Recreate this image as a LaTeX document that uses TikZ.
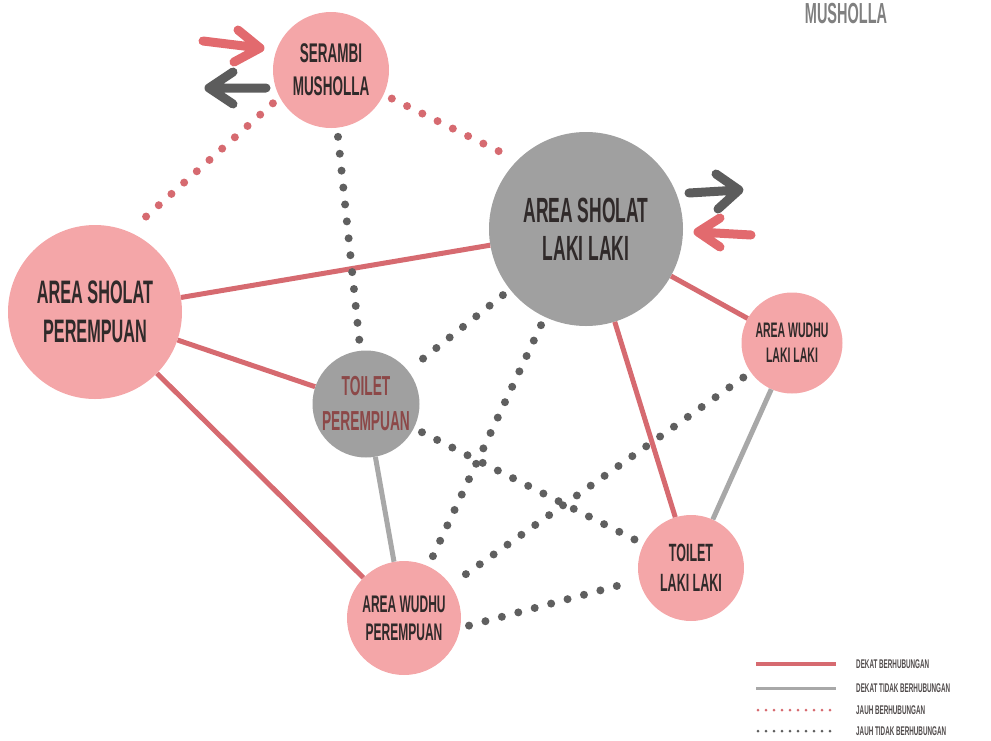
\documentclass[tikz,border=0pt]{standalone}
\usepackage{fontspec}
\newfontfamily\condfont[FakeStretch=0.5]{Liberation Sans}

\definecolor{isimerah}{RGB}{244,166,168}
\definecolor{isiabu}{RGB}{160,160,160}
\definecolor{garismerah}{RGB}{214,106,112}
\definecolor{garisabu}{RGB}{168,168,168}
\definecolor{titikabu}{RGB}{95,95,95}
\definecolor{panahabu}{RGB}{92,92,92}
\definecolor{panahmerah}{RGB}{226,106,110}
\definecolor{teksgelap}{RGB}{48,42,42}
\definecolor{tekscoklat}{RGB}{140,72,72}

\tikzset{
  ruang/.style={circle, inner sep=0pt, align=center, text=teksgelap},
  ruangmerah/.style={ruang, fill=isimerah},
  ruangabu/.style={ruang, fill=isiabu},
  dekat/.style={draw=garismerah, line width=5pt},
  dekattidak/.style={draw=garisabu, line width=5pt},
  jauh/.style={draw=garismerah, line width=8pt, line cap=round,
    dash pattern=on 0pt off 17pt, shorten <=9pt, shorten >=9pt},
  jauhtidak/.style={jauh, draw=titikabu},
  panah/.style={line width=9pt, line cap=round, line join=round},
  legteks/.style={anchor=west, inner sep=0pt, text=teksgelap!85,
    font=\condfont\bfseries\fontsize{12.6}{14}\selectfont}
}

\begin{document}
\begin{tikzpicture}[x=1pt, y=-1pt]
  \useasboundingbox (0,0) rectangle (991,740);

  % judul
  \node[text=black!50, font=\condfont\bfseries\fontsize{29}{30}\selectfont] (judul) at (846,14) {MUSHOLLA};

  % ruang-ruang
  \node[ruangmerah, minimum size=116pt, font=\condfont\bfseries\fontsize{27}{33}\selectfont]
    (serambi) at (331,70) {SERAMBI\\MUSHOLLA};
  \node[ruangabu, minimum size=194pt, font=\condfont\bfseries\fontsize{35}{38}\selectfont]
    (sholatL) at (586,229) {AREA SHOLAT\\LAKI LAKI};
  \node[ruangmerah, minimum size=174pt, font=\condfont\bfseries\fontsize{32.5}{39}\selectfont]
    (sholatP) at (95,312) {AREA SHOLAT\\PEREMPUAN};
  \node[ruangmerah, minimum size=101pt, font=\condfont\bfseries\fontsize{21}{25}\selectfont]
    (wudhuL) at (792,343) {AREA WUDHU\\LAKI LAKI};
  \node[ruangabu, minimum size=107pt, text=tekscoklat, font=\condfont\bfseries\fontsize{27.5}{35}\selectfont]
    (toiletP) at (366,404) {TOILET\\PEREMPUAN};
  \node[ruangmerah, minimum size=106pt, font=\condfont\bfseries\fontsize{25}{30}\selectfont]
    (toiletL) at (691,568) {TOILET\\LAKI LAKI};
  \node[ruangmerah, minimum size=114pt, font=\condfont\bfseries\fontsize{24}{28}\selectfont]
    (wudhuP) at (404,618) {AREA WUDHU\\PEREMPUAN};

  % dekat berhubungan
  \draw[dekat] (sholatP) -- (sholatL);
  \draw[dekat] (sholatP) -- (toiletP);
  \draw[dekat] (sholatP) -- (wudhuP);
  \draw[dekat] (sholatL) -- (wudhuL);
  \draw[dekat] (sholatL) -- (toiletL);

  % dekat tidak berhubungan
  \draw[dekattidak] (wudhuL) -- (toiletL);
  \draw[dekattidak] (toiletP) -- (wudhuP);

  % jauh berhubungan
  \draw[jauh] (serambi.208) -- (sholatP.67);
  \draw[jauh] (serambi.-25) -- (sholatL.135);

  % jauh tidak berhubungan
  \draw[jauhtidak] (serambi) -- (toiletP);
  \draw[jauhtidak] (sholatL) -- (toiletP);
  \draw[jauhtidak] (sholatL) -- (wudhuP);
  \draw[jauhtidak] (wudhuL) -- (wudhuP);
  \draw[jauhtidak] (toiletP) -- (toiletL);
  \draw[jauhtidak] (wudhuP.-10) -- (toiletL.193);

  % panah serambi
  \draw[panah, draw=panahmerah] (203,41) -- (260,48) (238,30) -- (260,48) -- (234,62);
  \draw[panah, draw=panahabu] (266,88) -- (209,88) (233,72) -- (209,88) -- (233,104);

  % panah area sholat laki laki
  \draw[panah, draw=panahabu] (689,193) -- (739,190) (716,174) -- (739,190) -- (718,209);
  \draw[panah, draw=panahmerah] (751,235) -- (698,232) (720,218) -- (698,232) -- (720,247);

  % legenda
  \coordinate (la1) at (756,664); \coordinate (lb1) at (836,664);
  \coordinate (la2) at (756,688); \coordinate (lb2) at (836,688);
  \coordinate (la3) at (758,710); \coordinate (lb3) at (836,710);
  \coordinate (la4) at (758,731); \coordinate (lb4) at (836,731);
  \draw[dekat, line width=3.5pt] (la1) -- (lb1);
  \draw[dekattidak, line width=3pt] (la2) -- (lb2);
  \draw[jauh, line width=3pt, dash pattern=on 0pt off 8pt, shorten <=0pt, shorten >=0pt] (la3) -- (lb3);
  \draw[jauhtidak, line width=3pt, dash pattern=on 0pt off 8pt, shorten <=0pt, shorten >=0pt] (la4) -- (lb4);
  \node[legteks] (lt1) at (856,664) {DEKAT BERHUBUNGAN};
  \node[legteks] (lt2) at (856,688) {DEKAT TIDAK BERHUBUNGAN};
  \node[legteks] (lt3) at (856,710) {JAUH BERHUBUNGAN};
  \node[legteks] (lt4) at (856,731) {JAUH TIDAK BERHUBUNGAN};
\end{tikzpicture}
\end{document}
